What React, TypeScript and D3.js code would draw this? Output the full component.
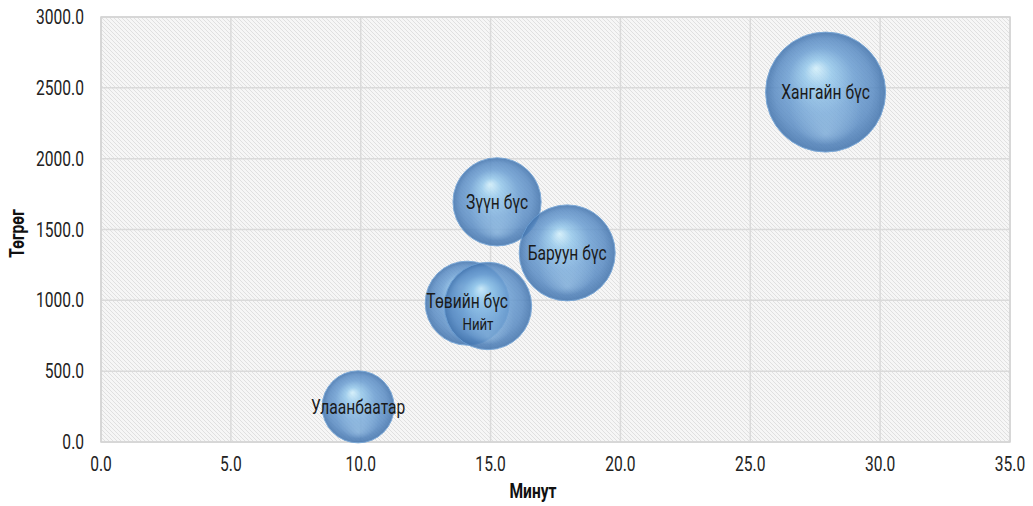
import React from "react";
import * as d3 from "d3";

const names = ["Улаанбаатар", "Төвийн бүс", "Нийт", "Зүүн бүс", "Баруун бүс", "Хангайн бүс"];
const minutes = [9.9, 14.1, 14.9, 15.25, 17.95, 27.9];
const tugrug = [248, 980, 960, 1695, 1335, 2470];
const sizes = [36, 49, 53, 54, 64, 100];
const xTicks = [0, 5, 10, 15, 20, 25, 30, 35];
const yTicks = [0, 500, 1000, 1500, 2000, 2500, 3000];

const W = 1033, H = 506;
const M = { left: 101, right: 23, top: 17, bottom: 64 };
const FONT = "Roboto, 'Liberation Sans', sans-serif";
const SX = 0.8;

function NText({ x, y, anchor = "middle", size = 19.5, weight = "normal", fill = "#222", rotate = 0, children }: any) {
  return (
    <g transform={`translate(${x},${y}) rotate(${rotate}) scale(${SX},1)`}>
      <text x={0} y={0} textAnchor={anchor} fontFamily={FONT} fontSize={size} fontWeight={weight} fill={fill}>
        {children}
      </text>
    </g>
  );
}

export default function App() {
  const x = d3.scaleLinear().domain([0, 35]).range([M.left, W - M.right]);
  const y = d3.scaleLinear().domain([0, 3000]).range([H - M.bottom, M.top]);
  const r = d3.scaleSqrt().domain([0, 100]).range([0, 60]);
  const fmt = d3.format(".1f");
  const pw = W - M.right - M.left;
  const ph = H - M.bottom - M.top;

  return (
    <svg width={W} height={H} style={{ position: "absolute", left: 0, top: 0, background: "#fff" }}>
      <defs>
        <pattern id="hatch" patternUnits="userSpaceOnUse" width="4" height="4">
          <rect width="4" height="4" fill="#f6f6f6" />
          <path d="M-1,-1 L5,5 M-1,3 L1,5 M3,-1 L5,1" stroke="#e0e0e0" strokeWidth="1" />
        </pattern>
        <radialGradient id="sphere" cx="0.5" cy="0.5" r="0.5" fx="0.42" fy="0.3">
          <stop offset="0%" stopColor="#d2f0fc" />
          <stop offset="22%" stopColor="#96c9ec" />
          <stop offset="55%" stopColor="#6c9fd3" />
          <stop offset="82%" stopColor="#5a8cc4" />
          <stop offset="100%" stopColor="#4173ad" />
        </radialGradient>
        <radialGradient id="sphereLow" cx="0.5" cy="0.5" r="0.5" fx="0.5" fy="0.85">
          <stop offset="0%" stopColor="#a9d3f2" stopOpacity="0.45" />
          <stop offset="60%" stopColor="#a9d3f2" stopOpacity="0" />
        </radialGradient>
      </defs>
      <rect x={M.left} y={M.top} width={pw} height={ph} fill="url(#hatch)" />
      {xTicks.map((t) => (
        <line key={"gx" + t} x1={x(t)} x2={x(t)} y1={M.top} y2={H - M.bottom} stroke="#dadada" strokeWidth={1.5} />
      ))}
      {yTicks.map((t) => (
        <line key={"gy" + t} x1={M.left} x2={W - M.right} y1={y(t)} y2={y(t)} stroke="#dadada" strokeWidth={1.5} />
      ))}
      <rect x={M.left} y={M.top} width={pw} height={ph} fill="none" stroke="#d4d4d4" strokeWidth={1.5} />
      {xTicks.map((t) => (
        <NText key={"tx" + t} x={x(t)} y={H - M.bottom + 29}>{fmt(t)}</NText>
      ))}
      {yTicks.map((t) => (
        <NText key={"ty" + t} x={M.left - 17} y={y(t) + 7} anchor="end">{fmt(t)}</NText>
      ))}
      <NText x={533} y={H - 8} weight="bold" fill="#111">Минут</NText>
      <NText x={24} y={(M.top + H - M.bottom) / 2 + 4} rotate={-90} weight="bold" fill="#111">Төгрөг</NText>
      {names.map((n, i) => (
        <g key={"b" + i} opacity={0.86}>
          <circle cx={x(minutes[i])} cy={y(tugrug[i])} r={r(sizes[i])} fill="url(#sphere)" stroke="#6a9ed4" strokeWidth={1} />
          <circle cx={x(minutes[i])} cy={y(tugrug[i])} r={r(sizes[i])} fill="url(#sphereLow)" />
        </g>
      ))}
      {names.map((n, i) => {
        const isTotal = n === "Нийт";
        const isTov = n === "Төвийн бүс";
        return (
          <NText
            key={"l" + i}
            x={x(minutes[i]) + (isTotal ? -10 : 0)}
            y={y(tugrug[i]) + (isTotal ? 24 : isTov ? 5 : 7)}
            size={isTotal ? 16.5 : 19.5}
            fill="#1a1a1a"
          >
            {n}
          </NText>
        );
      })}
    </svg>
  );
}
